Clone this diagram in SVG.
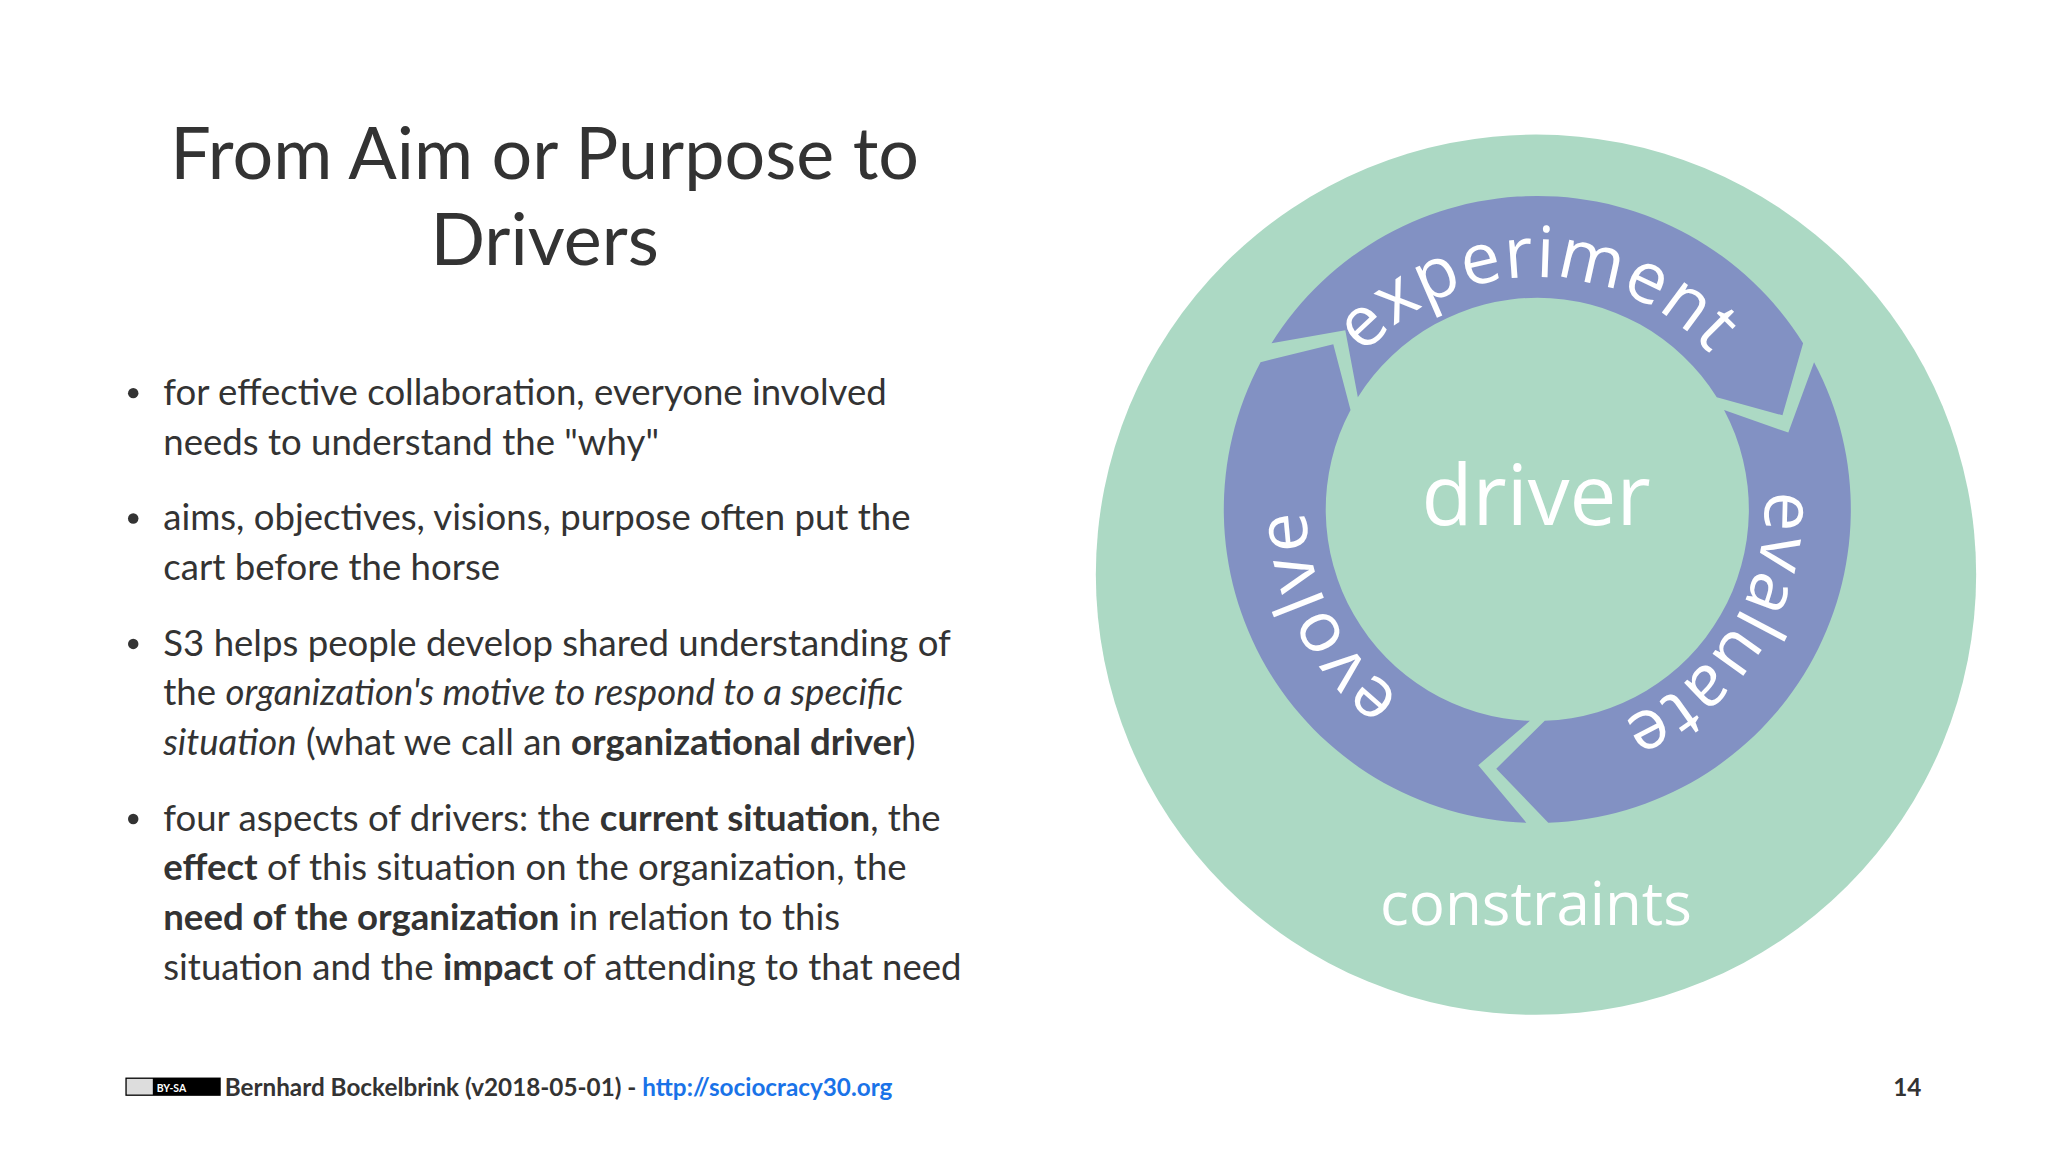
<svg xmlns="http://www.w3.org/2000/svg" width="2048" height="1152" viewBox="0 0 2048 1152">
<style>
.t{font-family:Lato,"Liberation Sans",sans-serif;fill:#333}
.b{font-size:28px}
.w{font-family:"Open Sans","Noto Sans",sans-serif;fill:#fff}
.arr{fill:#8291c3}
</style>
<defs>
<path id="pExp" d="M999,390 A178,178 0 0 1 1355,390"/>
<path id="pEva" d="M1271.3,239.1 A178,178 0 0 1 1082.7,540.9"/>
<path id="pEvo" d="M1257.8,548.6 A178,178 0 0 1 1096.2,231.4"/>
</defs>
<rect width="2048" height="1152" fill="#fff"/>
<g transform="scale(1.30612)">
<g id="title" class="t" font-size="55" text-anchor="middle">
<text x="417" y="137">From Aim or Purpose to</text>
<text x="417" y="203">Drivers</text>
</g>
<g id="bullets" class="t b">
<circle cx="102" cy="301" r="4" fill="#333"/>
<circle cx="102" cy="397" r="4" fill="#333"/>
<circle cx="102" cy="493" r="4" fill="#333"/>
<circle cx="102" cy="627" r="4" fill="#333"/>
<text x="125" y="310">for effective collaboration, everyone involved</text>
<text x="125" y="348">needs to understand the "why"</text>
<text x="125" y="406">aims, objectives, visions, purpose often put the</text>
<text x="125" y="444">cart before the horse</text>
<text x="125" y="502">S3 helps people develop shared understanding of</text>
<text x="125" y="540">the <tspan font-style="italic">organization's motive to respond to a specific</tspan></text>
<text x="125" y="578"><tspan font-style="italic">situation</tspan> (what we call an <tspan font-weight="bold">organizational driver</tspan>)</text>
<text x="125" y="636">four aspects of drivers: the <tspan font-weight="bold">current situation</tspan>, the</text>
<text x="125" y="674"><tspan font-weight="bold">effect</tspan> of this situation on the organization, the</text>
<text x="125" y="712"><tspan font-weight="bold">need of the organization</tspan> in relation to this</text>
<text x="125" y="750">situation and the <tspan font-weight="bold">impact</tspan> of attending to that need</text>
</g>
<g id="constraints">
<circle cx="1176" cy="440" r="337" fill="#acd9c4"/>
<text class="w" x="1176" y="708" font-size="46" text-anchor="middle">constraints</text>
</g>
<g id="connectors">
<path id="experiment" class="arr" d="M973.5,262.8 A240,240 0 0 1 1380.5,262.8 L1364.7,318 L1314.4,304.2 A162,162 0 0 0 1039.6,304.2 L1030,252.9 Z"/>
<path id="evaluate" class="arr" d="M1388.9,277.3 A240,240 0 0 1 1185.4,629.9 L1145.6,588.5 L1182.7,551.9 A162,162 0 0 0 1320,313.9 L1369.2,331.2 Z"/>
<path id="evolve" class="arr" d="M1168.6,629.9 A240,240 0 0 1 965.1,277.3 L1020.8,263.5 L1034,313.9 A162,162 0 0 0 1171.3,551.9 L1131.8,585.9 Z"/>
</g>
<g id="labels" class="w" font-size="54" letter-spacing="1">
<text><textPath href="#pExp" startOffset="50%" text-anchor="middle">experiment</textPath></text>
<text><textPath href="#pEva" startOffset="50%" text-anchor="middle">evaluate</textPath></text>
<text><textPath href="#pEvo" startOffset="50%" text-anchor="middle">evolve</textPath></text>
</g>
<g id="driver">
<text class="w" x="1176" y="402" font-size="64" text-anchor="middle">driver</text>
</g>
<g id="footer" class="t" font-size="18.6" font-weight="bold">
<rect x="96" y="825" width="73" height="14" fill="#000"/>
<rect x="97" y="826" width="20" height="12" fill="#ddd"/>
<text x="120" y="836" font-size="8" fill="#fff">BY-SA</text>
<text x="172" y="839">Bernhard Bockelbrink (v2018-05-01) - <tspan fill="#1a73e8">http://sociocracy30.org</tspan></text>
<text x="1471" y="839" text-anchor="end">14</text>
</g>
</g>
</svg>
